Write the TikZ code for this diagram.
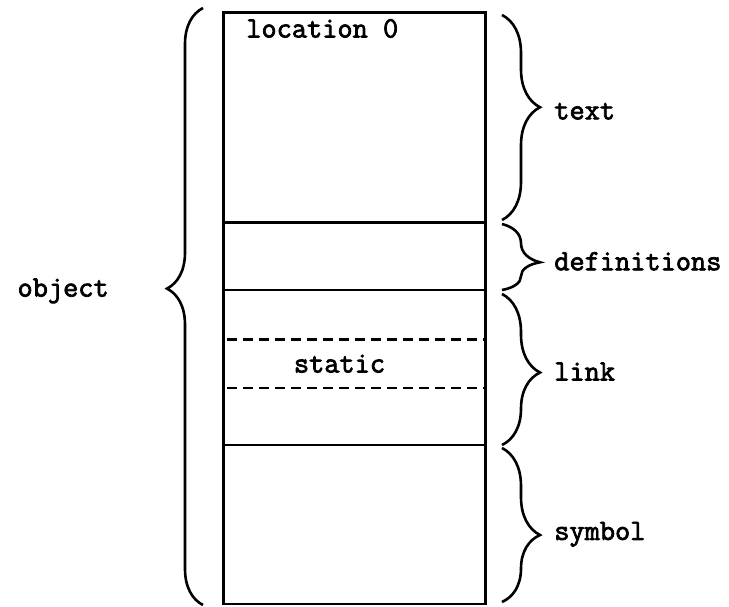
\documentclass[tikz,border=0pt]{standalone}
\usepackage{fontspec}
\setmonofont{Latin Modern Mono}[FakeBold=2.5]
\usetikzlibrary{decorations.pathreplacing}
\newcommand\tyfont{\ttfamily\fontsize{29.5}{32}\selectfont}
\begin{document}
\begin{tikzpicture}[x=1pt,y=-1pt,line width=2.6pt,
  every node/.style={font=\tyfont,inner sep=0pt},
  brc/.style={decorate,decoration={brace,amplitude=38pt,aspect=#1},line width=2.6pt},
  lbl/.style={anchor=base west,xshift=51pt,yshift=-8pt}]
\useasboundingbox (0,0) rectangle (729,607);
% object module layout
\node[draw,minimum width=262pt,minimum height=591pt,anchor=north west] (mem) at (222,11.5) {};
\foreach \y in {222.5,290,445} \draw (222,\y) -- (484,\y);
\foreach \y in {339.5,388} \draw[dash pattern=on 10pt off 6pt] (227,\y) -- (484,\y);
\node[anchor=base west] (loc) at ([xshift=23pt,yshift=-26pt]mem.north west) {location 0};
\node[anchor=base] (stc) at (339.5,372.5) {static};
% braces on the right
\coordinate (r0) at (502,15);
\coordinate (r1) at (502,220);
\coordinate (r2) at (502,224);
\coordinate (r3) at (502,290);
\coordinate (r4) at (502,294);
\coordinate (r5) at (502,445);
\coordinate (r6) at (502,448);
\coordinate (r7) at (502,602);
\draw[brc=.45] (r0) -- node[lbl,pos=.47] (txt) {text} (r1);
\draw[brc=.58] (r2) -- node[lbl,pos=.58] (def) {definitions} (r3);
\draw[brc=.52] (r4) -- node[lbl,pos=.52] (lnk) {link} (r5);
\draw[brc=.565] (r6) -- node[lbl,pos=.545] (sym) {symbol} (r7);
% brace on the left
\coordinate (l0) at (203,605);
\coordinate (l1) at (203,8);
\draw[brc=.53,decoration={amplitude=36pt}] (l0) -- node[pos=.53,anchor=base east,xshift=-93pt,yshift=-8pt] (obj) {object} (l1);
\end{tikzpicture}
\end{document}
